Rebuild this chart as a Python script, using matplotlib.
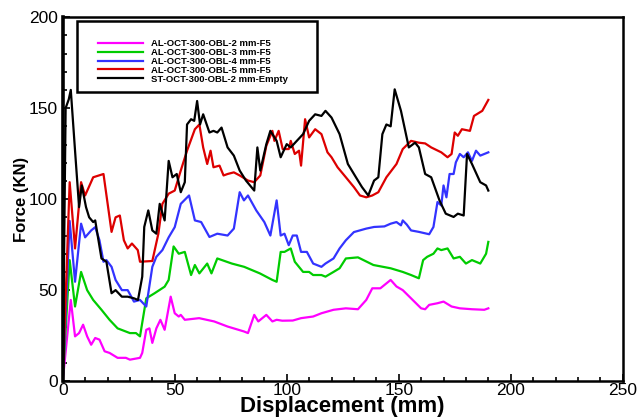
import matplotlib.pyplot as plt
from matplotlib.patches import Rectangle
from matplotlib.ticker import MultipleLocator

plt.rcParams['font.family'] = ['Liberation Sans', 'DejaVu Sans']

# series labels
labels = ["AL-OCT-300-OBL-2 mm-F5", "AL-OCT-300-OBL-3 mm-F5", "AL-OCT-300-OBL-4 mm-F5",
          "AL-OCT-300-OBL-5 mm-F5", "ST-OCT-300-OBL-2 mm-Empty"]
colors = ["#ff00ff", "#00cc00", "#3333ff", "#dd0000", "#000000"]

# AL 2 mm (magenta)
x_2mm = [0, 3.6, 5.5, 7.3, 9.1, 10.9, 12.7, 14.5, 16.4, 18.7, 20.9, 24.5, 28.2, 30, 34.5, 35.5, 37.3,
         38.7, 40, 41.8, 43.6, 45.5, 48.2, 50, 51.8, 52.7, 54.5, 60.9, 67.6, 73.6, 80.9, 82.7, 85.5,
         87.3, 90.9, 93.6, 95.5, 98, 102.7, 106.4, 111.8, 115.5, 120.9, 126.4, 131.8, 135.5, 138.2,
         141.8, 146.4, 149, 151.8, 155.5, 160, 161.8, 163.6, 167.3, 170, 173.6, 177.3, 182.7, 188.2, 190]
f_2mm = [0, 44.6, 24.6, 26.4, 31, 24.6, 20, 23.7, 22.8, 16.4, 15.5, 12.8, 12.8, 11.8, 12.8, 15.5, 28.2,
         29, 21, 29, 33.7, 28.2, 46.4, 37.3, 35.5, 36.4, 33.7, 34.6, 32.8, 30, 27.3, 26.4, 36.4,
         32.8, 36.4, 32.8, 33.7, 33.2, 33.3, 34.6, 35.5, 37.3, 39.2, 40, 39.5, 44.6, 51,
         51, 55.6, 52, 50, 45.5, 40, 39.5, 41.9, 42.8, 43.7, 41, 40, 39.5, 39.2, 40]

# AL 3 mm (green)
x_3mm = [0, 3.1, 5.5, 8.2, 10.9, 13.6, 17.3, 20.9, 24.5, 30, 32.7, 34.5, 37.3, 40.9, 45.5, 47.3, 49.5,
         51.8, 54.5, 57.3, 59, 61, 64.5, 66.4, 69, 75.5, 81, 88, 93.6, 95.5, 97.3, 99, 101.8, 103.6,
         107.3, 110, 111.8, 115.5, 117.3, 120.9, 123.6, 126.4, 131.8, 138.7, 146.4, 151.8, 155.5, 159,
         160.9, 162.7, 165.5, 167.3, 169, 171.8, 174.5, 177.3, 180, 182.7, 186.4, 189, 190]
f_3mm = [0, 66.5, 41, 60, 50, 44.6, 39.2, 33.7, 29, 26.4, 26.4, 24.6, 45.5, 48.2, 51.9, 55.6, 74,
         70, 71, 58.3, 63.8, 59.2, 64.6, 59.2, 67.4, 64.6, 62.8, 59.2, 55.6, 54.6, 71, 71, 72.9, 65.6,
         60, 60, 58.3, 58.3, 57.4, 60, 62, 67.4, 68, 63.8, 62, 60, 58.3, 56.5,
         66.5, 68.3, 70, 72.9, 72, 72.9, 67.4, 68.3, 64.6, 66.5, 64.6, 70, 76.5]

# AL 4 mm (blue)
x_4mm = [0, 3.1, 5.5, 8.2, 10, 12.7, 14.5, 16.4, 18.2, 19.5, 21.8, 23.6, 26.4, 29, 31.8, 34.5, 37.3,
         40, 41.8, 44.5, 47.3, 50, 52.7, 56.4, 59, 61.8, 65.5, 69, 73.6, 76.4, 79, 80.9, 82.7, 86.4,
         90, 92.7, 95.5, 97.3, 99, 100.9, 102.7, 104.5, 106.4, 109, 111.8, 115.5, 117.3, 120.9, 123.6,
         126.4, 130, 135.5, 139, 143.6, 146.4, 149, 151, 151.8, 153.6, 155.5, 159, 163.6, 165.5, 167.3,
         169, 170, 171.3, 172.7, 174.5, 175.5, 177.3, 179, 180.9, 182.7, 184.5, 186.4, 190]
f_4mm = [0, 88, 54.6, 86.5, 79, 82.8, 84.6, 77.4, 65.6, 66.5, 62.8, 55.6, 50, 50, 43.7, 44.6, 41,
         62.8, 68.3, 72, 79, 84.6, 97.4, 102, 88.3, 87.4, 79.2, 81, 80, 83.8, 103.8, 99.3, 102, 93.8,
         87.4, 80, 99.3, 80, 81, 74.7, 80, 80, 71, 71, 64.6, 62.8, 64.6, 67.4, 72.9,
         77.4, 81.9, 83.8, 84.7, 85, 86.5, 87.4, 85.6, 88.3, 86, 82.8, 82, 80.7, 84.7, 98.4,
         96.5, 107.5, 101, 113.8, 113.8, 120.2, 124.8, 123, 125.7, 121, 126.6, 123.9, 125.7]

# AL 5 mm (red)
x_5mm = [0, 3.1, 4.5, 5.5, 8.2, 10, 13.6, 18.2, 21.8, 23.6, 25.5, 27.3, 29, 30.9, 33.5, 34.5, 40,
         42.7, 44.5, 47.3, 50, 52.7, 55.5, 59, 61, 62.7, 64.5, 66, 67.3, 70, 71.8, 73.6, 76.4, 79,
         82.7, 85.5, 88.2, 90.9, 93.6, 94.5, 96.4, 98.2, 100.9, 101.8, 103.6, 105.5, 106.4, 108.2,
         110, 112.7, 115.5, 118.2, 120, 122.7, 126.4, 130, 132.7, 135.5, 138.2, 140.9, 144.5, 149,
         151.8, 155.5, 159, 161.8, 164.5, 169, 171.8, 173.6, 175, 176.4, 178.2, 181.8, 183.6, 187.3, 190]
f_5mm = [0, 109.3, 88.3, 72.9, 109.3, 102, 112, 113.8, 82, 90, 91, 77.4, 72.9, 75.6, 72, 65.6, 66,
         81, 97.4, 103, 104.7, 115.7, 126.6, 138.4, 141, 128.4, 119.3, 126.6, 117.5, 118.4, 113, 113.8, 114.7, 113,
         110.2, 109.3, 113, 129.3, 137.5, 132, 137.5, 127.5, 127.5, 132, 124.8, 126.6, 118.4, 143.9,
         133.9, 138.4, 135.7, 125.7, 123, 117.5, 112, 106.6, 102, 101, 102, 103.8, 112, 119.3,
         127.5, 132, 131, 130.6, 128.4, 125.7, 123, 124.8, 136.6, 134.8, 138.4, 137.5, 145.7, 148.5, 154.5]

# ST 2 mm empty (black)
x_st = [0, 1.3, 2.7, 3.6, 5.5, 7.3, 8.5, 10.4, 11.8, 13.6, 14.5, 17.3, 19.5, 21.8, 23.6, 26.4, 29,
        31.8, 33.6, 35.5, 36.4, 38.2, 40, 41.8, 43.3, 45.5, 47.3, 49, 50.9, 52.7, 54.5, 55.5, 57.3,
        58.7, 60, 61.3, 62.7, 65.5, 67.3, 69, 70.9, 73.6, 76.4, 79, 81.8, 85.5, 86.9, 88.2, 90.9,
        92.7, 95.5, 97.3, 100, 101.8, 104.5, 107.3, 110, 112.7, 115.5, 117.3, 120, 123.6, 127.3,
        130.9, 133.6, 136.4, 139, 140.9, 142.7, 144.5, 146.4, 148.2, 151, 154.5, 157.3, 159, 161.8,
        164.5, 168.2, 171, 174.5, 176.4, 179, 180.5, 182.7, 186.4, 189, 190]
f_st = [0, 150, 154.8, 160, 126.6, 95.6, 107.5, 95.6, 90, 87.4, 88.3, 67.4, 65.6, 48.3, 50, 46.4, 46.4,
        45.5, 44.6, 57.4, 84.7, 93.8, 82.8, 81, 97.4, 88.3, 121, 112, 113.8, 103.8, 109.3, 141, 143.9,
        143, 153.9, 141, 146.6, 136.6, 137.5, 136.6, 139.3, 128.4, 123.9, 115.7, 110.2, 104.7, 128.4, 115.7, 130.2,
        137.5, 132, 123, 130.2, 128.4, 132, 135.7, 143, 146.6, 145.7, 148.5, 144.8, 135.7, 119.3,
        112, 106.6, 102, 110.2, 112, 135.7, 141, 140, 160.3, 148.5, 128.4, 131, 128.4, 113.8,
        112, 99.3, 92, 90.2, 92, 91, 124.8, 119.3, 109.3, 107.5, 104.7]

xs = [x_2mm, x_3mm, x_4mm, x_5mm, x_st]
fs = [f_2mm, f_3mm, f_4mm, f_5mm, f_st]

fig = plt.figure(figsize=(6.4, 4.17), dpi=100)
ax = fig.add_axes([0.098, 0.086, 0.875, 0.873])

for x, f, c, lab in zip(xs, fs, colors, labels):
    ax.plot(x, f, color=c, lw=1.6, label=lab)

ax.set_xlim(0, 250)
ax.set_ylim(0, 200)
ax.xaxis.set_major_locator(MultipleLocator(50))
ax.yaxis.set_major_locator(MultipleLocator(50))
ax.xaxis.set_minor_locator(MultipleLocator(10))
ax.yaxis.set_minor_locator(MultipleLocator(10))
ax.tick_params(which='both', direction='in', top=False, right=False, labelsize=12.5, width=1.2)
ax.tick_params(which='major', length=5)
ax.tick_params(which='minor', length=3)
ax.tick_params(axis='x', pad=1)

for side in ['top', 'right', 'bottom']:
    ax.spines[side].set_linewidth(1.8)
ax.spines['left'].set_linewidth(2.6)

ax.set_xlabel("Displacement (mm)", fontsize=16, fontweight='bold', labelpad=-1)
ax.set_ylabel("Force (KN)", fontsize=12, fontweight='bold', labelpad=0)

# legend box with the entries sitting low inside it
ax.add_patch(Rectangle((0.025, 0.795), 0.429, 0.194, transform=ax.transAxes,
                       fill=False, lw=1.8, ec='black', zorder=5))
ax.legend(loc='upper left', bbox_to_anchor=(0.055, 0.952), frameon=False,
          prop={'weight': 'bold', 'size': 6.8}, handlelength=4.7, handletextpad=0.9,
          labelspacing=-0.02, borderpad=0)

fig.savefig("out.png", dpi=100)
